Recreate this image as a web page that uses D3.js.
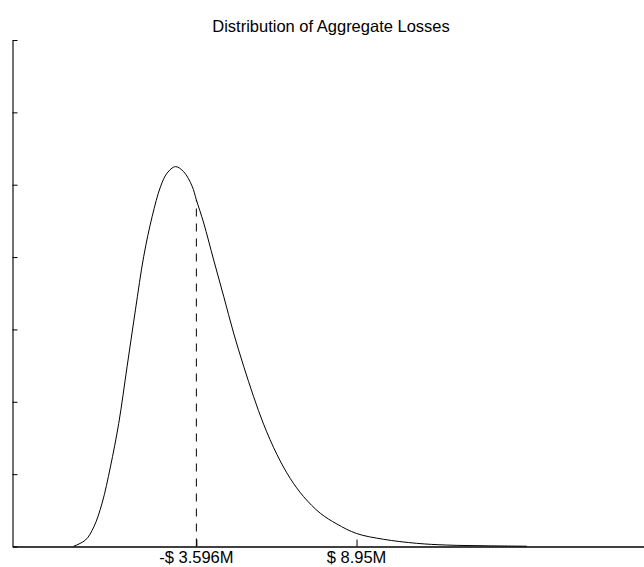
<!DOCTYPE html>
<html>
<head>
<meta charset="utf-8">
<script src="https://cdn.jsdelivr.net/npm/d3@7"></script>
<style>
    body { margin: 0; background: #fff; }
    svg { display: block; font-family: Arial, "Liberation Sans", sans-serif; }
</style>
</head>
<body>
<div id="chart"></div>
<script>
"use strict";

// aggregate loss in $M, density
const lossX = [-13.25, -12.28, -11.63, -10.98, -10.33, -9.68, -9.02, -8.37, -7.72, -7.06,
    -6.41, -5.89, -5.24, -4.59, -3.93, -3.596, -3.02, -2.24, -1.46, -0.68,
    0.11, 0.89, 1.67, 2.72, 3.76, 4.80, 6.11, 7.42, 8.95, 11.05,
    13.66, 16.01, 19.10, 22.29];
const density = [0.00, 0.09, 0.27, 0.60, 1.10, 1.70, 2.49, 3.27, 4.01, 4.56,
    4.97, 5.16, 5.25, 5.18, 4.98, 4.79, 4.47, 3.96, 3.46, 2.95,
    2.49, 2.07, 1.69, 1.27, 0.94, 0.69, 0.46, 0.31, 0.18, 0.10,
    0.044, 0.02, 0.01, 0.004];

const xTicks = [-3.596, 8.95];
const xTickLabels = ["-$ 3.596M", "$ 8.95M"];
const yTicks = [0, 1, 2, 3, 4, 5, 6, 7];
const markerX = -3.596;
const title = "Distribution of Aggregate Losses";

const width = 644, height = 567;
const margin = {top: 40, right: 0, bottom: 20.5, left: 12.5};

const svg = d3.select("#chart").append("svg")
    .attr("width", width)
    .attr("height", height);

const x = d3.scaleLinear()
    .domain([-18.0, 31.47])
    .range([margin.left, width - margin.right]);

const y = d3.scaleLinear()
    .domain([0, 7])
    .range([height - margin.bottom, margin.top]);

const pts = lossX.map((v, i) => ({x: v, y: density[i]}));

// axes
const yAxis = svg.append("g")
    .attr("transform", "translate(" + margin.left + ",0)")
    .call(d3.axisRight(y).tickValues(yTicks).tickSize(5).tickFormat("").tickSizeOuter(0));
yAxis.select(".domain").attr("stroke", "#222").attr("stroke-width", 1.3);
yAxis.selectAll(".tick line").attr("stroke", "#000");

const xAxis = svg.append("g")
    .attr("transform", "translate(0," + (height - margin.bottom) + ")")
    .call(d3.axisTop(x).tickValues(xTicks).tickSize(7).tickSizeOuter(0).tickFormat(""));
xAxis.select(".domain").attr("stroke", "#000").attr("stroke-width", 1.6);
xAxis.selectAll(".tick line").attr("stroke", "#000");

svg.append("g")
    .selectAll("text")
    .data(xTicks)
    .enter().append("text")
    .attr("x", (d) => x(d))
    .attr("y", height - 4)
    .attr("text-anchor", "middle")
    .style("font-size", "16.5px")
    .style("fill", "#000")
    .text((d, i) => xTickLabels[i]);

// density curve
svg.append("path")
    .datum(pts)
    .attr("fill", "none")
    .attr("stroke", "#000")
    .attr("stroke-width", 1)
    .attr("d", d3.line()
        .x((d) => x(d.x))
        .y((d) => y(d.y))
        .curve(d3.curveCatmullRom.alpha(0.5)));

// dashed marker up to the curve
const i = d3.bisector((d) => d.x).left(pts, markerX);
const a = pts[Math.max(i - 1, 0)], b = pts[i];
const markerY = b.x === a.x ? b.y : a.y + (b.y - a.y) * (markerX - a.x) / (b.x - a.x);

svg.append("line")
    .attr("x1", x(markerX))
    .attr("x2", x(markerX))
    .attr("y1", y(0))
    .attr("y2", y(markerY))
    .attr("stroke", "#000")
    .attr("stroke-width", 1)
    .attr("stroke-dasharray", "8,7");

svg.append("text")
    .attr("x", 331)
    .attr("y", 31.5)
    .attr("text-anchor", "middle")
    .style("font-size", "16.5px")
    .style("fill", "#000")
    .text(title);
</script>
</body>
</html>
